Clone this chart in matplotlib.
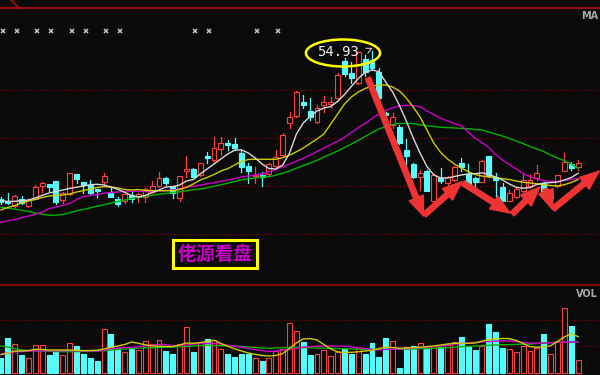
import matplotlib
matplotlib.use('Agg')
import matplotlib.pyplot as plt
from matplotlib.patches import Rectangle, Ellipse
from matplotlib.lines import Line2D

# ---- daily bars ----
opens = [40.10, 39.93, 39.40, 40.13, 39.40, 40.13, 41.40, 41.57, 41.90, 40.00,
         40.60, 42.57, 41.77, 41.50, 41.07, 41.83, 40.73, 40.13, 39.90, 40.50,
         40.27, 40.27, 40.80, 41.40, 42.20, 41.40, 40.23, 42.93, 43.13, 42.50,
         44.40, 44.00, 45.07, 45.67, 45.57, 44.67, 43.40, 42.40, 42.47, 42.60,
         43.40, 44.50, 47.73, 48.40, 49.83, 48.90, 47.83, 49.50, 49.60, 50.17,
         53.90, 52.67, 51.70, 54.10, 54.00, 52.80, 48.70, 47.50, 47.33, 45.00,
         43.57, 42.27, 42.93, 39.93, 42.17, 41.67, 42.00, 43.67, 42.60, 42.17,
         41.83, 44.40, 42.33, 41.33, 39.93, 40.33, 40.93, 41.27, 42.17, 41.73,
         40.17, 41.40, 42.93, 43.60, 43.33]
highs = [40.30, 40.73, 40.55, 40.40, 40.10, 41.50, 41.83, 41.60, 41.95, 40.83,
         42.70, 42.60, 41.85, 42.00, 41.10, 42.73, 41.20, 40.33, 40.65, 40.93,
         40.73, 41.20, 41.90, 42.83, 42.33, 41.45, 42.40, 44.40, 43.20, 43.75,
         44.83, 46.33, 46.27, 46.00, 46.17, 45.00, 43.73, 43.33, 42.83, 43.73,
         45.00, 46.67, 48.83, 50.90, 50.50, 50.17, 49.50, 50.40, 50.33, 52.67,
         54.20, 53.83, 54.85, 54.50, 54.93, 53.20, 48.83, 48.70, 47.50, 46.10,
         43.70, 43.00, 43.00, 42.60, 43.20, 42.40, 43.40, 44.17, 43.57, 42.33,
         44.00, 44.45, 42.73, 41.67, 41.00, 41.27, 42.60, 42.50, 43.50, 41.80,
         41.00, 42.50, 44.67, 43.83, 44.00]
lows = [39.60, 39.65, 39.30, 39.65, 39.35, 40.10, 40.83, 40.90, 39.65, 39.73,
        40.55, 41.67, 40.67, 40.65, 40.27, 41.60, 40.30, 39.40, 39.67, 39.80,
        39.83, 39.80, 40.67, 41.35, 41.50, 40.23, 39.93, 42.27, 42.30, 42.40,
        43.67, 43.83, 44.50, 45.00, 45.00, 42.83, 41.67, 41.67, 41.40, 42.50,
        43.33, 44.40, 47.17, 48.30, 49.17, 48.00, 47.67, 48.83, 49.33, 50.00,
        52.40, 51.67, 51.60, 52.40, 53.00, 50.10, 47.33, 47.20, 45.60, 43.33,
        42.20, 41.00, 40.90, 39.85, 41.73, 41.33, 41.90, 42.93, 41.27, 41.17,
        41.80, 42.35, 40.33, 39.90, 39.93, 40.17, 40.67, 41.20, 42.00, 40.90,
        40.00, 41.33, 42.90, 43.00, 43.00]
closes = [39.85, 39.73, 40.43, 39.67, 40.00, 41.33, 41.67, 41.33, 39.83, 40.67,
          42.67, 42.07, 41.50, 40.67, 40.87, 42.40, 40.33, 39.60, 40.60, 40.07,
          40.60, 41.07, 41.40, 42.20, 41.67, 40.67, 42.40, 43.13, 42.33, 43.67,
          44.17, 45.17, 45.73, 45.47, 45.17, 43.33, 42.90, 42.50, 42.27, 43.57,
          44.27, 46.50, 48.27, 50.83, 49.50, 48.33, 49.17, 49.80, 49.83, 52.50,
          52.65, 52.17, 54.80, 52.80, 53.17, 50.20, 48.50, 48.27, 45.67, 44.40,
          42.27, 42.67, 40.93, 42.50, 41.93, 42.33, 43.27, 43.27, 41.50, 41.83,
          43.93, 42.40, 42.00, 39.93, 40.67, 41.07, 42.00, 42.00, 42.73, 40.93,
          40.67, 42.47, 43.83, 43.17, 43.73]
volumes = [15.0, 35.0, 29.3, 18.3, 15.6, 28.3, 28.0, 18.3, 21.6, 18.3,
           30.0, 27.3, 19.3, 15.6, 12.3, 44.0, 39.3, 25.0, 21.6, 24.0,
           23.3, 32.3, 29.3, 33.0, 22.3, 19.3, 29.3, 46.3, 21.6, 31.6,
           34.0, 33.3, 24.3, 19.3, 16.6, 19.3, 19.3, 15.6, 12.3, 15.6,
           22.3, 24.3, 50.0, 42.6, 31.6, 18.3, 19.3, 23.3, 17.3, 21.6,
           24.3, 19.3, 25.0, 19.3, 30.6, 16.0, 35.6, 32.3, 5.0, 26.0,
           27.3, 30.0, 24.3, 27.3, 26.0, 28.3, 31.0, 36.0, 27.3, 23.3,
           27.3, 49.3, 41.0, 25.6, 24.3, 21.0, 27.3, 22.6, 25.0, 39.3,
           19.3, 32.3, 65.0, 47.3, 13.3]

# moving average lines as drawn on the chart
ma5 = [39.93, 39.85, 39.87, 39.94, 40.00, 40.20, 40.47, 40.70, 40.85, 41.00,
       41.16, 41.28, 41.40, 41.52, 41.57, 41.50, 41.30, 41.07, 40.77, 40.45,
       40.30, 40.45, 40.75, 41.00, 41.30, 41.33, 41.50, 41.90, 42.05, 42.60,
       43.10, 43.60, 44.10, 44.60, 44.97, 45.02, 44.70, 44.20, 43.60, 43.15,
       43.10, 43.50, 44.70, 46.60, 47.70, 48.35, 48.90, 49.20, 49.35, 49.85,
       50.55, 51.35, 52.15, 52.75, 53.00, 52.85, 51.80, 50.80, 49.45, 47.90,
       46.20, 44.70, 43.35, 42.50, 42.20, 42.20, 42.35, 42.50, 42.60, 42.63,
       42.72, 42.55, 42.30, 42.00, 41.60, 41.27, 41.17, 41.27, 41.55, 41.70,
       41.74, 41.80, 42.00, 42.25, 42.67]
ma10 = [39.00, 39.25, 39.45, 39.70, 39.90, 40.05, 40.25, 40.40, 40.47, 40.50,
        40.60, 40.80, 40.95, 41.10, 41.25, 41.33, 41.30, 41.20, 41.05, 41.00,
        41.05, 40.95, 40.93, 40.93, 40.93, 40.93, 41.05, 41.27, 41.60, 42.00,
        42.25, 42.55, 42.90, 43.13, 43.50, 43.85, 44.05, 44.07, 44.07, 44.07,
        44.07, 44.23, 44.48, 44.82, 45.20, 45.65, 46.10, 46.60, 47.60, 48.60,
        49.60, 50.30, 50.80, 51.15, 51.40, 51.50, 51.50, 51.30, 50.90, 50.20,
        49.30, 48.30, 47.00, 45.70, 44.75, 44.10, 43.60, 43.20, 42.85, 42.55,
        42.40, 42.30, 42.25, 42.13, 42.05, 41.90, 41.77, 41.70, 41.62, 41.54,
        41.45, 41.40, 41.53, 41.75, 42.05]
ma20 = [37.76, 37.92, 38.05, 38.22, 38.40, 38.55, 38.80, 39.13, 39.30, 39.47,
        39.66, 40.05, 40.35, 40.45, 40.55, 40.68, 40.75, 40.81, 40.85, 40.89,
        40.88, 40.84, 40.86, 40.90, 40.94, 41.00, 41.12, 41.26, 41.38, 41.50,
        41.62, 41.73, 41.85, 42.00, 42.15, 42.30, 42.40, 42.50, 42.62, 42.82,
        43.05, 43.32, 43.58, 43.90, 44.17, 44.50, 44.85, 45.20, 45.55, 45.88,
        46.28, 46.75, 47.23, 47.67, 48.15, 48.60, 48.95, 49.22, 49.40, 49.47,
        49.45, 49.33, 48.90, 48.55, 48.17, 47.90, 47.65, 47.45, 46.80, 46.20,
        45.75, 45.25, 44.55, 44.00, 43.55, 43.10, 42.65, 42.35, 42.10, 41.95,
        41.85, 41.85, 41.95, 42.07, 42.17]
ma60 = [39.26, 39.19, 39.09, 38.98, 38.86, 38.70, 38.57, 38.48, 38.48, 38.56,
        38.72, 38.92, 39.05, 39.22, 39.37, 39.53, 39.69, 39.85, 40.00, 40.14,
        40.27, 40.37, 40.47, 40.58, 40.66, 40.73, 40.82, 40.93, 41.02, 41.10,
        41.22, 41.37, 41.52, 41.68, 41.85, 42.02, 42.13, 42.20, 42.28, 42.32,
        42.48, 42.68, 42.90, 43.18, 43.45, 43.70, 43.97, 44.30, 44.60, 44.90,
        45.25, 45.60, 45.97, 46.35, 46.75, 47.10, 47.35, 47.55, 47.67, 47.65,
        47.65, 47.50, 47.42, 47.35, 47.27, 47.24, 47.20, 47.17, 47.12, 47.05,
        47.00, 46.80, 46.60, 46.40, 46.15, 45.90, 45.65, 45.35, 45.10, 44.85,
        44.50, 44.20, 43.93, 43.60, 43.15]

vol_ma1 = [18.6, 20.3, 22.3, 22.3, 22.8, 24.0, 23.8, 23.3, 23.3, 23.3,
           23.3, 23.0, 22.7, 22.8, 23.1, 24.3, 26.1, 27.3, 28.8, 31.3,
           30.0, 28.5, 27.3, 27.0, 26.8, 26.6, 28.3, 30.3, 30.0, 30.7,
           32.0, 33.1, 29.8, 27.1, 24.5, 22.3, 20.3, 19.0, 17.8, 17.3,
           17.8, 19.8, 24.8, 30.3, 34.3, 34.7, 33.3, 28.8, 24.3, 21.5,
           20.8, 21.0, 21.5, 22.3, 23.0, 24.6, 26.3, 25.8, 25.0, 25.3,
           25.7, 26.0, 26.7, 27.3, 28.3, 29.3, 30.0, 30.0, 30.0, 30.3,
           32.1, 33.8, 34.3, 34.8, 34.7, 32.8, 29.8, 26.6, 26.1, 26.5,
           27.5, 31.8, 36.3, 39.8, 36.6]
vol_ma2 = [19.3, 20.3, 21.3, 21.7, 22.0, 22.3, 22.4, 22.5, 22.5, 22.6,
           22.6, 22.5, 22.4, 22.3, 22.3, 23.1, 24.8, 25.2, 25.6, 25.9,
           26.5, 27.3, 28.0, 28.9, 28.6, 27.5, 27.8, 28.3, 29.3, 30.1,
           29.9, 29.7, 29.3, 28.1, 27.1, 26.0, 24.8, 23.6, 22.6, 21.8,
           22.3, 23.0, 24.0, 25.0, 26.0, 26.7, 27.1, 27.3, 27.3, 27.3,
           27.0, 26.3, 25.5, 24.7, 23.7, 23.3, 23.8, 24.2, 24.3, 24.7,
           25.3, 25.6, 26.1, 26.8, 27.3, 28.3, 29.1, 29.9, 30.4, 30.9,
           31.4, 31.7, 32.1, 32.5, 32.3, 31.7, 30.9, 30.3, 30.0, 30.3,
           30.5, 30.8, 31.1, 31.3, 31.6]
vol_ma3 = [27.3, 26.3, 24.6, 23.3, 22.7, 22.3, 22.1, 22.0, 21.8, 21.7,
           21.6, 21.7, 21.9, 22.1, 22.2, 22.5, 23.3, 23.9, 24.4, 24.9,
           25.2, 25.4, 25.6, 25.8, 26.0, 26.3, 26.6, 26.9, 27.2, 27.8,
           28.0, 27.8, 27.6, 27.4, 27.3, 26.8, 26.3, 25.8, 25.3, 25.0,
           25.3, 25.6, 25.8, 26.0, 25.8, 25.5, 25.3, 25.1, 25.0, 24.8,
           24.6, 24.3, 24.1, 24.0, 24.0, 24.0, 24.0, 24.0, 24.0, 24.3,
           24.5, 24.7, 24.9, 25.0, 25.3, 25.6, 26.1, 26.6, 26.9, 27.3,
           27.7, 28.0, 28.3, 28.5, 28.7, 28.9, 29.1, 29.3, 29.8, 30.3,
           30.7, 31.0, 31.4, 31.6, 31.6]

info_marks = [0, 2, 5, 7, 10, 12, 15, 17, 28, 30, 37, 40]   # little grey x markers
price_grid = [51.0, 46.2, 41.4, 36.6]
vol_grid = [27.3, 53.3]
# hand drawn red arrows: (tail index, tail price) -> (head index, head price)
arrows = [((53.4, 52.2), (61.5, 38.4)),
          ((61.6, 38.5), (67.1, 41.85)),
          ((67.25, 41.7), (74.1, 38.7)),
          ((74.4, 38.6), (78.45, 41.3)),
          ((79.2, 41.1), (80.3, 39.05)),
          ((80.35, 39.1), (87.1, 42.9))]
tag_text = '佬源看盘'
tag_pos = (31.15, 34.6)

BG = '#0a0a0a'
RED = '#ff4040'
CYAN = '#54fcfc'
GRID = '#a00000'

n = len(closes)
idx = list(range(n))

fig = plt.figure(figsize=(6, 3.75), dpi=100, facecolor=BG)
ax = fig.add_axes([0, 90 / 375, 1, 277 / 375])
axv = fig.add_axes([0, 0, 1, 90 / 375])
for a in (ax, axv):
    a.set_facecolor(BG)
    a.set_xlim(-0.146, 87.19)
    a.set_xticks([])
    a.set_yticks([])
    for s in a.spines.values():
        s.set_visible(False)
ax.set_ylim(31.5, 59.2)
axv.set_ylim(-1.7, 88.3)

ax.spines['top'].set_visible(True)
ax.spines['top'].set_color('#b01010')
ax.spines['top'].set_linewidth(1.3)
axv.spines['top'].set_visible(True)
axv.spines['top'].set_color('#7a0a0a')
axv.spines['top'].set_linewidth(1.6)

for p in price_grid:
    ax.axhline(p, color=GRID, lw=0.8, ls=(0, (1, 2)), zorder=1)
for v in vol_grid:
    axv.axhline(v, color=GRID, lw=0.8, ls=(0, (1, 2)), zorder=1)

# candles
w = 0.72
for i in idx:
    o, h, l, c = opens[i], highs[i], lows[i], closes[i]
    up = c >= o
    col = RED if up else CYAN
    top, bot = max(o, c), min(o, c)
    ax.plot([i, i], [top, h], color=col, lw=0.9, zorder=2)
    ax.plot([i, i], [l, bot], color=col, lw=0.9, zorder=2)
    ax.add_patch(Rectangle((i - w / 2, bot), w, max(top - bot, 0.08),
                           facecolor=BG if up else col, edgecolor=col,
                           lw=0.8, zorder=3))
    axv.add_patch(Rectangle((i - w / 2, 0), w, volumes[i],
                            facecolor=BG if up else col, edgecolor=col,
                            lw=0.8, zorder=3))

ax.plot(idx, ma60, color='#00b400', lw=1.0, zorder=4)
ax.plot(idx, ma20, color='#cc00cc', lw=1.0, zorder=4)
ax.plot(idx, ma10, color='#cccc00', lw=1.0, zorder=4)
ax.plot(idx, ma5, color='#d8d8d8', lw=1.0, zorder=4)

axv.plot(idx, vol_ma3, color='#00b400', lw=1.0, zorder=4)
axv.plot(idx, vol_ma2, color='#cc00cc', lw=1.0, zorder=4)
axv.plot(idx, vol_ma1, color='#cccc00', lw=1.0, zorder=4)

# info markers along the top
ax.plot([i + 0.3 for i in info_marks], [0.917] * len(info_marks), ls='none',
        marker='x', ms=3.2, mew=1.1, color='#c8c8c8',
        transform=ax.get_xaxis_transform(), zorder=5)

# high label
hi = max(highs)
hi_i = highs.index(hi)
ax.text(hi_i - 1.9, hi - 0.13, f'{hi:.2f}', color='#f0f0f0', fontsize=10,
        family='DejaVu Sans Mono', ha='right', va='center', zorder=6)
ax.plot([hi_i - 0.87, hi_i - 0.04, hi_i - 0.58], [hi + 0.24, hi + 0.24, hi - 0.23],
        color='#c8c8c8', lw=0.8, zorder=6)
ax.add_patch(Ellipse((hi_i - 4.22, hi - 0.23), 10.8, 2.7, fill=False,
                     edgecolor='#ffff00', lw=1.8, zorder=6))

for (x0, y0), (x1, y1) in arrows:
    ax.annotate('', xy=(x1, y1), xytext=(x0, y0),
                arrowprops=dict(arrowstyle='simple,head_length=1.4,head_width=1.1,tail_width=0.38',
                                color='#ee3333', shrinkA=0, shrinkB=0), zorder=7)

ax.text(tag_pos[0], tag_pos[1], tag_text, color='#c800c8', fontsize=13.5,
        family=['Noto Sans CJK SC', 'DejaVu Sans'], fontweight='bold',
        ha='center', va='center', zorder=6,
        bbox=dict(boxstyle='square,pad=0.22', fc='none', ec='#ffff00', lw=2.2))

fig.text(598 / 600, 1 - 16 / 375, 'MA', color='#a8a8a8', fontsize=7,
         fontweight='bold', va='center', ha='right')
fig.text(598 / 600, 1 - 294 / 375, 'VOL', color='#a8a8a8', fontsize=7,
         fontweight='bold', va='center', ha='right')
fig.add_artist(Line2D([11 / 600, 19 / 600], [1, 1 - 8 / 375], color='#b01010', lw=1.2))

fig.savefig('out.png', dpi=100, facecolor=BG)
